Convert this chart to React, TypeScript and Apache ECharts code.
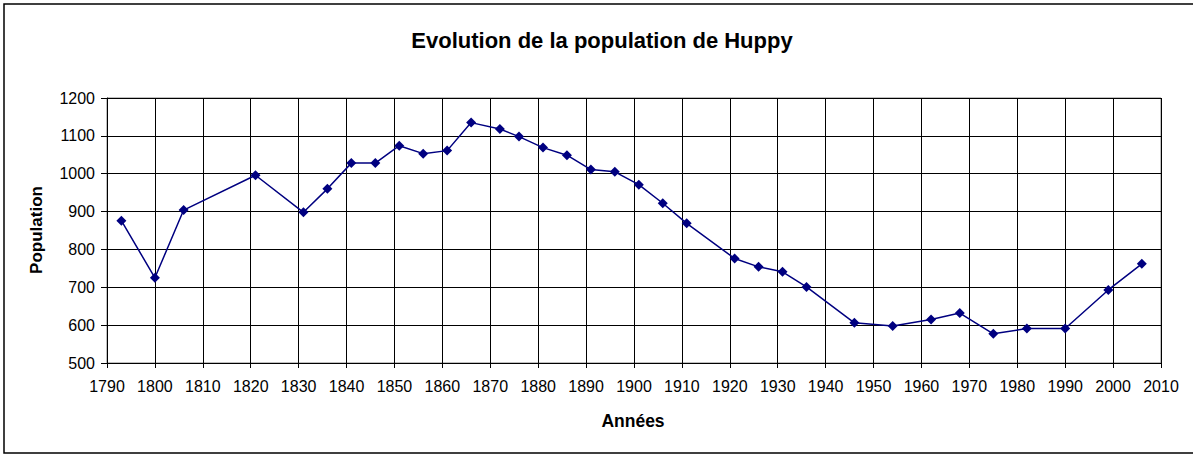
import React, { useEffect, useRef } from "react";
import * as echarts from "echarts";

const years = [1793, 1800, 1806, 1821, 1831, 1836, 1841, 1846, 1851, 1856, 1861, 1866, 1872, 1876, 1881, 1886, 1891, 1896, 1901, 1906, 1911, 1921, 1926, 1931, 1936, 1946, 1954, 1962, 1968, 1975, 1982, 1990, 1999, 2006];
const population = [876, 725, 904, 996, 898, 960, 1028, 1028, 1074, 1053, 1061, 1135, 1118, 1098, 1069, 1049, 1011, 1005, 971, 922, 869, 776, 754, 741, 701, 606, 598, 615, 632, 577, 591, 591, 693, 762];

const titleText = "Evolution de la population de Huppy";
const xName = "Années";
const yName = "Population";

const FONT = "'Liberation Sans', Arial, sans-serif";

export default function App() {
  const ref = useRef<HTMLDivElement>(null);
  useEffect(() => {
    if (!ref.current) return;
    const chart = echarts.init(ref.current, null, { renderer: "svg" });
    const data = years.map((y, i) => [y, population[i]]);
    chart.setOption({
      animation: false,
      backgroundColor: "#fff",
      textStyle: { fontFamily: FONT },
      grid: {
        left: 107,
        right: 32,
        top: 98,
        bottom: 92,
        show: true,
        borderColor: "#808080",
        borderWidth: 1,
      },
      xAxis: {
        type: "value",
        min: 1790,
        max: 2010,
        interval: 10,
        axisLine: { show: true, onZero: false, lineStyle: { color: "#000", width: 1 } },
        axisTick: { show: true, length: 5, lineStyle: { color: "#000" } },
        axisLabel: { color: "#000", fontSize: 16, fontFamily: FONT, margin: 15, formatter: (v: number) => String(v) },
        splitLine: { show: true, lineStyle: { color: "#000", width: 1 } },
      },
      yAxis: {
        type: "value",
        min: 500,
        max: 1200,
        interval: 100,
        axisLine: { show: true, lineStyle: { color: "#000", width: 1 } },
        axisTick: { show: true, length: 6, lineStyle: { color: "#000" } },
        axisLabel: { color: "#000", fontSize: 16, fontFamily: FONT, margin: 12, formatter: (v: number) => String(v) },
        splitLine: { show: true, lineStyle: { color: "#000", width: 1 } },
      },
      series: [
        {
          type: "line",
          data,
          symbol: "diamond",
          symbolSize: 10,
          itemStyle: { color: "#000080" },
          lineStyle: { color: "#000080", width: 1.5 },
        },
      ],
      graphic: [
        {
          type: "rect",
          shape: { x: 4, y: 4, width: 1200, height: 449 },
          style: { fill: "none", stroke: "#000", lineWidth: 1.5 },
          silent: true,
        },
        {
          type: "text",
          x: 602,
          y: 40,
          style: {
            text: titleText,
            font: `bold 22px ${FONT}`,
            fill: "#000",
            textAlign: "center",
            textVerticalAlign: "middle",
          },
        },
        {
          type: "text",
          x: 633,
          y: 421,
          style: {
            text: xName,
            font: `bold 17.5px ${FONT}`,
            fill: "#000",
            textAlign: "center",
            textVerticalAlign: "middle",
          },
        },
        {
          type: "text",
          x: 36,
          y: 230,
          rotation: Math.PI / 2,
          style: {
            text: yName,
            font: `bold 17px ${FONT}`,
            fill: "#000",
            textAlign: "center",
            textVerticalAlign: "middle",
          },
        },
      ],
    });
    return () => chart.dispose();
  }, []);
  return (
    <div
      ref={ref}
      style={{ position: "absolute", left: 0, top: 0, width: 1193, height: 455 }}
    />
  );
}
